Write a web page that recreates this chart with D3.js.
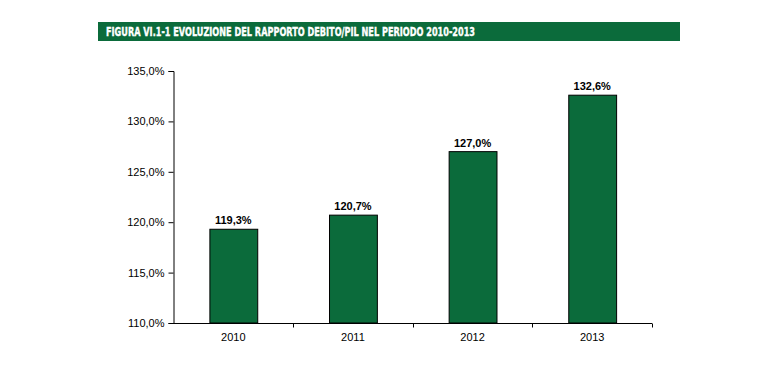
<!DOCTYPE html>
<html>
<head>
<meta charset="utf-8">
<script src="https://cdn.jsdelivr.net/npm/d3@7"></script>
<style>
  body { margin: 0; background: #fff; }
  text { font-family: "Liberation Sans", Arial, sans-serif; }
</style>
</head>
<body>
<div id="chart"></div>
<script>
// data
var years = ['2010', '2011', '2012', '2013'];
var debtRatio = [119.3, 120.7, 127.0, 132.6];
var yTicks = [110, 115, 120, 125, 130, 135];
var title = 'FIGURA VI.1-1 EVOLUZIONE DEL RAPPORTO DEBITO/PIL NEL PERIODO 2010-2013';

var width = 776, height = 384;
var green = '#0b6b3b';

var svg = d3.select('#chart').append('svg')
  .attr('width', width)
  .attr('height', height)
  .style('background', 'white');

// title bar
svg.append('rect')
  .attr('x', 98).attr('y', 22)
  .attr('width', 582).attr('height', 19)
  .style('fill', green);

svg.append('text')
  .text(title)
  .attr('x', 106).attr('y', 35.5)
  .attr('textLength', 369)
  .attr('lengthAdjust', 'spacingAndGlyphs')
  .style('font-family', '"DejaVu Sans Condensed", "DejaVu Sans", sans-serif')
  .style('font-weight', 'bold')
  .style('font-size', '11.5px')
  .style('fill', 'white')
  .style('stroke', 'white')
  .style('stroke-width', 0.35);

// scales
var x = d3.scaleBand().domain(years).range([173.5, 652]).paddingInner(0.6).paddingOuter(0.3);
var xb = d3.scaleBand().domain(years).range([173.5, 652]);
var y = d3.scaleLinear().domain([110, 135]).range([323, 71]);

var fmt = function(v) { return d3.format('.1f')(v).replace('.', ',') + '%'; };

// y axis
var yAxis = svg.append('g')
  .attr('transform', 'translate(173.5,0)')
  .call(d3.axisLeft(y).tickValues(yTicks).tickFormat(fmt).tickSize(5).tickPadding(4));
yAxis.select('.domain').attr('stroke', '#000');
yAxis.selectAll('.tick line').attr('stroke', '#000');
yAxis.selectAll('text').style('font-size', '11px').style('fill', '#000')
  .style('font-family', '"Liberation Sans", Arial, sans-serif');

// x axis with ticks at category boundaries
var xg = svg.append('g').attr('transform', 'translate(0,323.5)');
xg.append('line')
  .attr('x1', 173.5).attr('x2', 652)
  .attr('stroke', '#000');
xg.selectAll('line.tk')
  .data(years)
  .enter()
  .append('line')
    .attr('class', 'tk')
    .attr('x1', function(d) { return Math.round(xb(d) + xb.bandwidth()) + 0.5; })
    .attr('x2', function(d) { return Math.round(xb(d) + xb.bandwidth()) + 0.5; })
    .attr('y1', 0).attr('y2', 4)
    .attr('stroke', '#000');
xg.selectAll('text')
  .data(years)
  .enter()
  .append('text')
    .text(function(d) { return d; })
    .attr('x', function(d) { return xb(d) + xb.bandwidth() / 2; })
    .attr('y', 17)
    .style('text-anchor', 'middle')
    .style('font-size', '11px');

// bars
svg.selectAll('rect.bar')
  .data(debtRatio)
  .enter()
  .append('rect')
    .attr('class', 'bar')
    .attr('x', function(d, i) { return x(years[i]) + 0.5; })
    .attr('y', function(d) { return y(d); })
    .attr('width', x.bandwidth())
    .attr('height', function(d) { return y(110) - y(d); })
    .style('fill', green)
    .style('stroke', '#000')
    .style('stroke-width', 1);

// value labels
svg.selectAll('text.val')
  .data(debtRatio)
  .enter()
  .append('text')
    .attr('class', 'val')
    .text(function(d) { return fmt(d); })
    .attr('x', function(d, i) { return xb(years[i]) + xb.bandwidth() / 2; })
    .attr('y', function(d) { return y(d) - 5; })
    .style('text-anchor', 'middle')
    .style('font-weight', 'bold')
    .style('font-size', '11px');
</script>
</body>
</html>
